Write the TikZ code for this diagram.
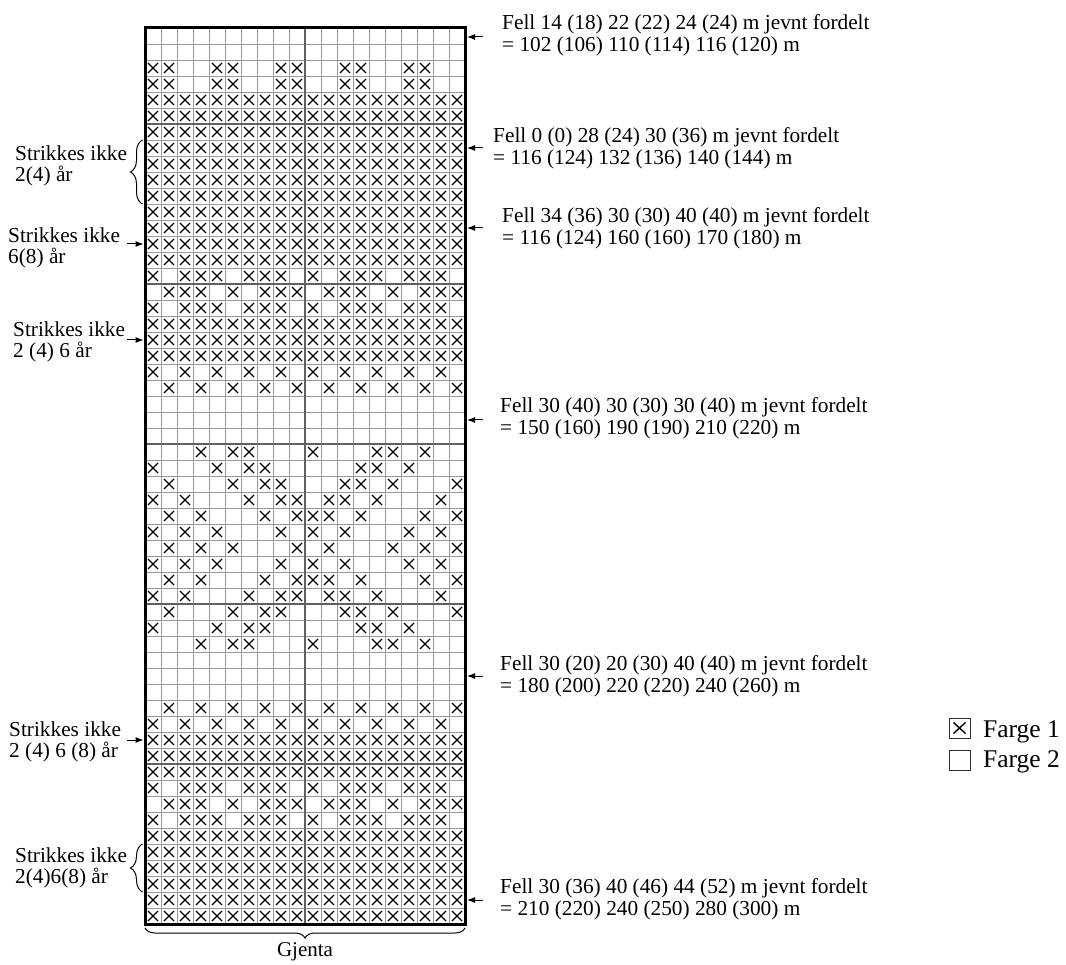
\documentclass[tikz,border=0pt]{standalone}
\usepackage{fontspec}
\setmainfont{Liberation Serif}
\usetikzlibrary{arrows.meta,decorations.pathreplacing}
\newcommand\knitx[2]{\draw[xmark] ({145+16*(#1-1)+3},{28+16*(#2-1)+3}) -- ++(10,10) ++(-10,0) -- ++(10,-10);}
\begin{document}
\begin{tikzpicture}[x=1pt,y=-1pt,
  gridline/.style={draw=black!40, line width=0.9pt},
  tenline/.style={draw=black!62, line width=1.4pt},
  border/.style={draw=black, line width=3pt},
  xmark/.style={draw=black, line width=1.25pt},
  ptr/.style={-{Latex[length=8pt,width=6pt]}, line width=1pt},
  lbl/.style={font=\fontsize{21.3}{21.6}\selectfont, align=left, inner sep=0pt, anchor=west},
  brc/.style={decorate, decoration={brace, amplitude=12pt}, line width=1pt},
  gbrc/.style={decorate, decoration={brace, amplitude=10pt}, line width=1pt},
  legtxt/.style={font=\fontsize{25.5}{28}\selectfont, inner sep=0pt, anchor=west},
  legbox/.style={draw=black!80, line width=1pt, minimum width=21pt, minimum height=20pt, inner sep=0pt}
]
\useasboundingbox (0,0) rectangle (1066,965);

% thin grid
\foreach \i in {0,...,20} \draw[gridline] (145+16*\i,28) -- (145+16*\i,924);
\foreach \j in {0,...,56} \draw[gridline] (145,28+16*\j) -- (465,28+16*\j);

% X marks
\foreach \r in {3,4} \foreach \c in {1,2,5,6,9,10,13,14,17,18} {\knitx{\c}{\r}}
\foreach \r in {5,...,15,19,20,21,45,46,47,51,52,53,54,55,56} \foreach \c in {1,...,20} {\knitx{\c}{\r}}
\foreach \r in {16,18,48,50} \foreach \c in {1,3,4,5,7,8,9,11,13,14,15,17,18,19} {\knitx{\c}{\r}}
\foreach \r in {17,49} \foreach \c in {2,3,4,6,8,9,10,12,13,14,16,18,19,20} {\knitx{\c}{\r}}
\foreach \r in {22,44} \foreach \c in {1,3,...,19} {\knitx{\c}{\r}}
\foreach \r in {23,43} \foreach \c in {2,4,...,20} {\knitx{\c}{\r}}
\foreach \r/\cl in {27/{4,6,7,11,15,16,18}, 39/{4,6,7,11,15,16,18},
                    28/{1,5,7,8,14,15,17}, 38/{1,5,7,8,14,15,17},
                    29/{2,6,8,9,13,14,16,20}, 37/{2,6,8,9,13,14,16,20},
                    30/{1,3,7,9,10,12,13,15,19}, 36/{1,3,7,9,10,12,13,15,19},
                    31/{2,4,8,10,11,12,14,18,20}, 35/{2,4,8,10,11,12,14,18,20},
                    32/{1,3,5,9,11,13,17,19}, 34/{1,3,5,9,11,13,17,19},
                    33/{2,4,6,10,12,16,18,20}}
  {\foreach \c in \cl {\knitx{\c}{\r}}}

% ten-lines
\draw[tenline] (305,28) -- (305,924);
\foreach \y in {124,284,444,604,764} \draw[tenline] (145,\y) -- (465,\y);

% border
\draw[border] (145,28) rectangle (465,924);

% right labels
\node[lbl] (r1) at (502,35) {Fell 14 (18) 22 (22) 24 (24) m jevnt fordelt\\= 102 (106) 110 (114) 116 (120) m};
\node[lbl] (r2) at (493,148) {Fell 0 (0) 28 (24) 30 (36) m jevnt fordelt\\= 116 (124) 132 (136) 140 (144) m};
\node[lbl] (r3) at (502,228) {Fell 34 (36) 30 (30) 40 (40) m jevnt fordelt\\= 116 (124) 160 (160) 170 (180) m};
\node[lbl] (r4) at (500,418) {Fell 30 (40) 30 (30) 30 (40) m jevnt fordelt\\= 150 (160) 190 (190) 210 (220) m};
\node[lbl] (r5) at (500,676) {Fell 30 (20) 20 (30) 40 (40) m jevnt fordelt\\= 180 (200) 220 (220) 240 (260) m};
\node[lbl] (r6) at (500,899) {Fell 30 (36) 40 (46) 44 (52) m jevnt fordelt\\= 210 (220) 240 (250) 280 (300) m};

\foreach \n/\y in {1/37,2/148,3/228,4/420,5/676,6/900}{
  \coordinate (ra\n) at (483,\y);
  \coordinate (rb\n) at (467,\y);
  \draw[ptr] (ra\n) -- (rb\n);
}

% left labels
\node[lbl] (l1) at (15,166) {Strikkes ikke\\2(4) år};
\node[lbl] (l2) at (8,248) {Strikkes ikke\\6(8) år};
\node[lbl] (l3) at (13,342) {Strikkes ikke\\2 (4) 6 år};
\node[lbl] (l4) at (9,742) {Strikkes ikke\\2 (4) 6 (8) år};
\node[lbl] (l5) at (15,868) {Strikkes ikke\\2(4)6(8) år};

\foreach \n/\y in {2/244,3/340,4/740}{
  \coordinate (la\n) at (127,\y);
  \coordinate (lb\n) at (143.5,\y);
  \draw[ptr] (la\n) -- (lb\n);
}

\coordinate (b1s) at (142.5,204);
\coordinate (b1e) at (142.5,140);
\draw[brc] (b1s) -- (b1e);
\coordinate (b5s) at (142.5,892);
\coordinate (b5e) at (142.5,844);
\draw[brc] (b5s) -- (b5e);

% Gjenta
\coordinate (gs) at (465,928);
\coordinate (ge) at (145,928);
\draw[gbrc] (gs) -- (ge);
\node[font=\fontsize{21}{22}\selectfont, inner sep=0pt] (gj) at (305,952) {Gjenta};

% legend
\node[legbox] (lg1) at (959.5,728) {};
\draw[xmark, line width=1.4pt] ([shift={(5,5)}]lg1.north west) -- ([shift={(-5,-5)}]lg1.south east)
      ([shift={(-5,5)}]lg1.north east) -- ([shift={(5,-5)}]lg1.south west);
\node[legbox] (lg2) at (959.5,760) {};
\node[legtxt] (lt1) at (983,732) {Farge 1};
\node[legtxt] (lt2) at (983,762) {Farge 2};
\end{tikzpicture}
\end{document}
